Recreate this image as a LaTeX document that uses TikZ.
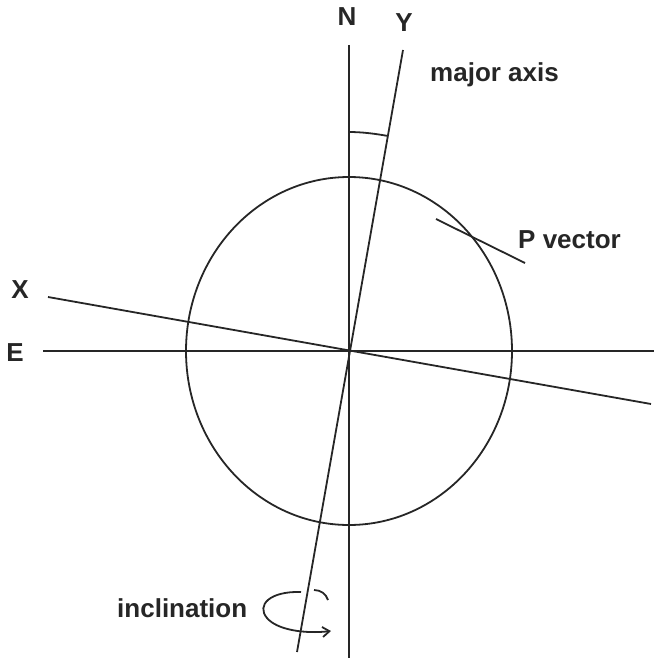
\documentclass[tikz,border=0pt]{standalone}
\usepackage{fontspec}
\setmainfont{Liberation Sans}
\usetikzlibrary{arrows.meta}
\begin{document}
\begin{tikzpicture}[x=1pt,y=-1pt,
  ln/.style={line width=1.8pt,draw=black!85},
  lbl/.style={font=\fontsize{26}{30}\selectfont\bfseries,text=black!85,inner sep=0pt}]
\useasboundingbox (0,0) rectangle (654,658);
% coordinates
\coordinate (O) at (349,351);
\coordinate (Ntop) at (349,45);
\coordinate (Nbot) at (349,658);
\coordinate (Eleft) at (43,351);
\coordinate (Eright) at (654,351);
\coordinate (Ytop) at (403,50);
\coordinate (Ybot) at (297,652);
\coordinate (Xleft) at (48,297);
\coordinate (Xright) at (651,404);
\coordinate (Pa) at (436,219);
\coordinate (Pb) at (525,263);
% lines
\draw[ln] (Ntop) -- (Nbot);
\draw[ln] (Eleft) -- (Eright);
\draw[ln] (Ytop) -- (Ybot);
\draw[ln] (Xleft) -- (Xright);
\draw[ln] (O) ellipse[x radius=163,y radius=174];
\draw[ln] (Pa) -- (Pb);
% angle arc
\draw[ln] (349,132) .. controls (362,132) and (375.2,133.7) .. (388,136);
% inclination rotation
\draw[ln,-{Straight Barb[length=7pt,width=10pt]}] (301,592) .. controls (270,591) and (256,605) .. (267,618) .. controls (277,630) and (305,634) .. (331,631);
\draw[ln] (314,590) .. controls (321,590) and (326,594) .. (328,600);
% labels
\node[lbl,anchor=center] (N) at (347,17) {N};
\node[lbl,anchor=center] (Y) at (404,23) {Y};
\node[lbl,anchor=base west] (maj) at (430,82) {major axis};
\node[lbl,anchor=base west] (pv) at (518,248) {P vector};
\node[lbl,anchor=center] (X) at (20,290) {X};
\node[lbl,anchor=center] (E) at (15,353) {E};
\node[lbl,anchor=base west] (inc) at (117,617) {inclination};
\end{tikzpicture}
\end{document}
